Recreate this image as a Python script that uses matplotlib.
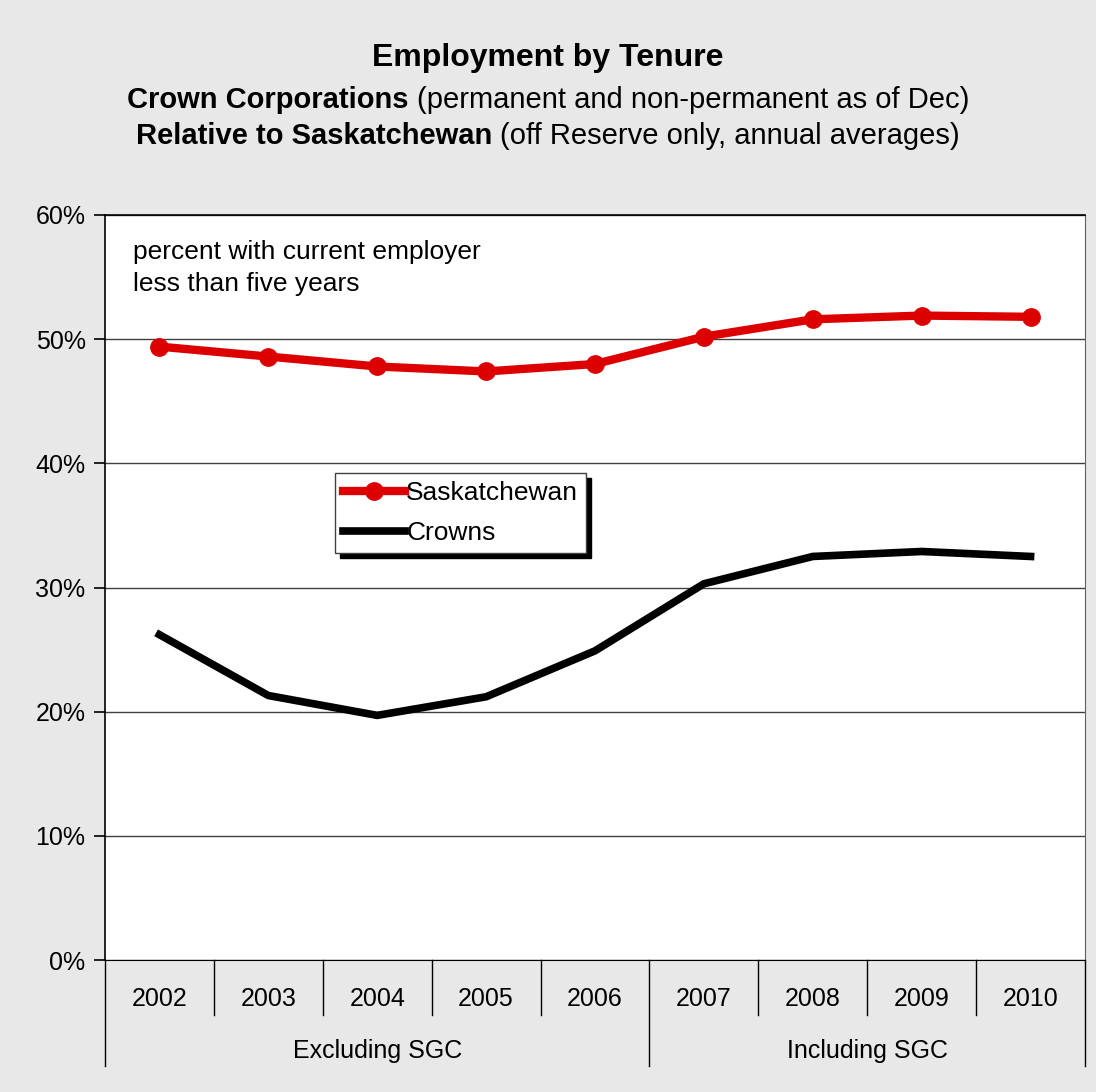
import matplotlib
matplotlib.use("Agg")
import matplotlib.pyplot as plt
from matplotlib.ticker import PercentFormatter

# tenure data, percent with current employer less than five years
years = ["2002", "2003", "2004", "2005", "2006", "2007", "2008", "2009", "2010"]
saskatchewan = [49.4, 48.6, 47.8, 47.4, 48.0, 50.2, 51.6, 51.9, 51.8]
crowns = [26.2, 21.3, 19.7, 21.2, 24.9, 30.3, 32.5, 32.9, 32.5]
groups = ["Excluding SGC", "Including SGC"]
group_sizes = [5, 4]

plt.rcParams["font.family"] = ["Liberation Sans", "DejaVu Sans"]
bg = "#e8e8e8"
red = "#dd0000"

fig = plt.figure(figsize=(10.96, 10.92), dpi=100, facecolor=bg)
W, H = 1096, 1092
ax = fig.add_axes([105 / W, 1 - 960 / H, 980 / W, 745 / H])
ax.set_facecolor("white")

x = list(range(len(years)))
ax.plot(x, saskatchewan, color=red, lw=6, marker="o", ms=12.5,
        solid_joinstyle="round", label="Saskatchewan", zorder=3)
ax.plot(x, crowns, color="black", lw=5.5, solid_joinstyle="round",
        label="Crowns", zorder=3)

ax.set_xlim(-0.5, len(years) - 0.5)
ax.set_ylim(0, 60)
ax.set_yticks(range(0, 61, 10))
ax.yaxis.set_major_formatter(PercentFormatter(decimals=0))
ax.tick_params(axis="y", direction="out", length=8, width=1.2, labelsize=18,
               pad=6, colors="black")
ax.set_xticks([])
ax.grid(axis="y", color="#404040", lw=1)
for side in ["left", "top"]:
    ax.spines[side].set_color("black")
    ax.spines[side].set_linewidth(1.2)
ax.spines["right"].set_color("#606060")
ax.spines["bottom"].set_color("black")

# category labels with separators below the axis
trans = ax.get_xaxis_transform()
for i, yr in enumerate(years):
    ax.text(i, -0.052, yr, transform=trans, ha="center", va="center",
            fontsize=18)
for i in range(1, len(years)):
    if i == group_sizes[0]:
        continue
    ax.plot([i - 0.5, i - 0.5], [0, -0.074], transform=trans, color="black",
            lw=1, clip_on=False)
start = -0.5
edges = [start]
for g, n in zip(groups, group_sizes):
    ax.text(start + n / 2, -0.122, g, transform=trans, ha="center",
            va="center", fontsize=18)
    start += n
    edges.append(start)
for e in edges:
    ax.plot([e, e], [0, -0.142], transform=trans, color="black", lw=1,
            clip_on=False)

ax.text((133 - 105) / 980, 1 - (268 - 215) / 745,
        "percent with current employer\nless than five years",
        transform=ax.transAxes, ha="left", va="center", fontsize=19,
        linespacing=1.38)

leg = ax.legend(loc="upper left", bbox_to_anchor=((335 - 105) / 980, 1 - (473 - 215) / 745),
                fontsize=19, frameon=True, fancybox=False,
                shadow={"color": "black", "alpha": 1, "ox": 3.6, "oy": -3.6},
                borderpad=0.3, handlelength=2.35, handletextpad=0.05,
                labelspacing=0.62, borderaxespad=0)
leg.get_frame().set_edgecolor("#404040")
leg.get_frame().set_linewidth(1)

# titles, with bold lead-ins followed by plain text
fig.text(0.5, 1 - 58 / H, "Employment by Tenure", ha="center", va="center",
         fontsize=23, fontweight="bold")

def mixed_line(y, bold, plain):
    r = fig.canvas.get_renderer()
    t1 = fig.text(0, y, bold, fontsize=21, fontweight="bold", va="center")
    t2 = fig.text(0, y, plain, fontsize=21, va="center")
    w1 = t1.get_window_extent(r).width
    w2 = t2.get_window_extent(r).width
    left = (W - (w1 + w2)) / 2
    t1.set_x(left / W)
    t2.set_x((left + w1) / W)

mixed_line(1 - 100 / H, "Crown Corporations ", "(permanent and non-permanent as of Dec)")
mixed_line(1 - 136 / H, "Relative to Saskatchewan ", "(off Reserve only, annual averages)")

fig.savefig("out.png", dpi=100, facecolor=bg)
